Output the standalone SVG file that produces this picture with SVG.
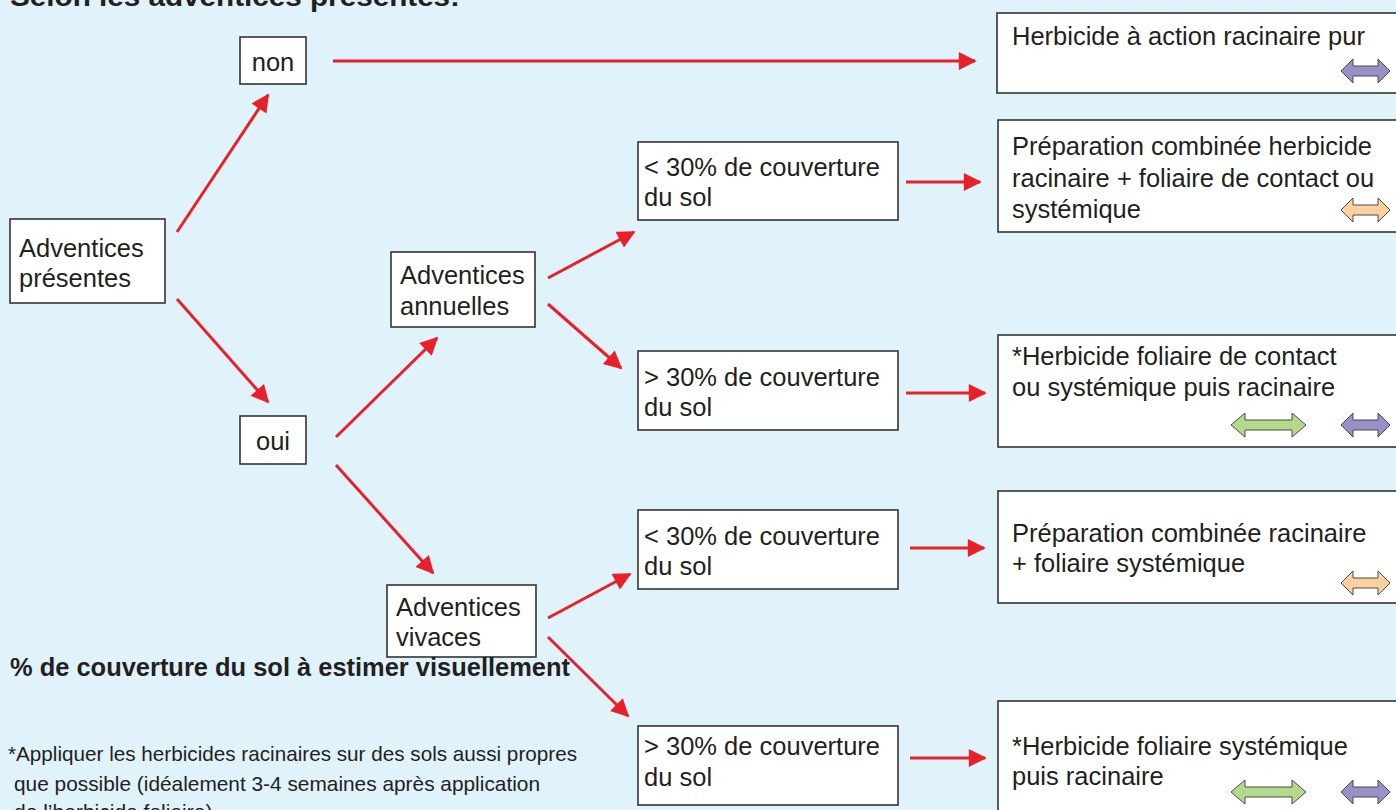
<svg xmlns="http://www.w3.org/2000/svg" xmlns:xlink="http://www.w3.org/1999/xlink" width="1396" height="810" viewBox="0 0 1396 810">
<style>
.bg{fill:#e0f3fb}
.box{fill:#fff;stroke:#333;stroke-width:1.6}
.t{font-family:"Liberation Sans",Arial,sans-serif;font-size:25.5px;fill:#231f20}
.b{font-family:"Liberation Sans",Arial,sans-serif;font-weight:bold;fill:#231f20}
.fn{font-family:"Liberation Sans",Arial,sans-serif;font-size:21px;fill:#231f20}
.con line{stroke:#e8202a;stroke-width:3;marker-end:url(#ah)}
.dbl{stroke:#4a4a4a;stroke-width:1}
.pu{fill:#9b8fc7}.or{fill:#fdd09f}.gr{fill:#b5d98a}
</style>
<defs>
<marker id="ah" viewBox="0 0 10 10" refX="9" refY="5" markerWidth="7" markerHeight="6" markerUnits="strokeWidth" orient="auto">
<path d="M0,0 L10,5 L0,10 z" fill="#e8202a"/>
</marker>
<path id="dS" d="M0,0 L12,-12 L12,-5 L37,-5 L37,-12 L49,0 L37,12 L37,5 L12,5 L12,12 Z"/>
<path id="dL" d="M0,0 L14,-12 L14,-5 L61,-5 L61,-12 L75,0 L61,12 L61,5 L14,5 L14,12 Z"/>
</defs>
<rect class="bg" x="0" y="0" width="1396" height="810"/>
<text class="b" x="10" y="6" font-size="28" textLength="450" lengthAdjust="spacingAndGlyphs">Selon les adventices présentes:</text>

<g id="connectors" class="con">
<line x1="177" y1="232" x2="268" y2="95"/>
<line x1="177" y1="299" x2="268" y2="402"/>
<line x1="336" y1="437" x2="437" y2="338"/>
<line x1="336" y1="465" x2="433" y2="573"/>
<line x1="548" y1="278" x2="634" y2="232"/>
<line x1="548" y1="304" x2="621" y2="368"/>
<line x1="548" y1="618" x2="630" y2="574"/>
<line x1="548" y1="637" x2="628" y2="716"/>
<line x1="333" y1="61" x2="975" y2="61"/>
<line x1="906" y1="182" x2="980" y2="182"/>
<line x1="906" y1="393" x2="985" y2="393"/>
<line x1="910" y1="548" x2="984" y2="548"/>
<line x1="910" y1="758" x2="985" y2="758"/>
</g>

<g id="n-presentes"><rect class="box" x="10" y="219" width="155" height="84"/>
<text class="t" x="19" y="257">Adventices</text><text class="t" x="19" y="287">présentes</text></g>
<g id="n-non"><rect class="box" x="240" y="37" width="66" height="47"/>
<text class="t" x="273" y="71" text-anchor="middle">non</text></g>
<g id="n-oui"><rect class="box" x="240" y="416" width="66" height="48"/>
<text class="t" x="273" y="450" text-anchor="middle">oui</text></g>
<g id="n-annuelles"><rect class="box" x="391" y="252" width="144" height="75"/>
<text class="t" x="400" y="284">Adventices</text><text class="t" x="400" y="315">annuelles</text></g>
<g id="n-vivaces"><rect class="box" x="387" y="585" width="149" height="72"/>
<text class="t" x="396" y="616">Adventices</text><text class="t" x="396" y="646">vivaces</text></g>

<g id="n-a-lt30"><rect class="box" x="638" y="142" width="260" height="78"/>
<text class="t" x="644" y="176">&lt; 30% de couverture</text><text class="t" x="644" y="206">du sol</text></g>
<g id="n-a-gt30"><rect class="box" x="638" y="351" width="260" height="79"/>
<text class="t" x="644" y="386">&gt; 30% de couverture</text><text class="t" x="644" y="416">du sol</text></g>
<g id="n-v-lt30"><rect class="box" x="638" y="510" width="260" height="79"/>
<text class="t" x="644" y="545">&lt; 30% de couverture</text><text class="t" x="644" y="575">du sol</text></g>
<g id="n-v-gt30"><rect class="box" x="638" y="726" width="260" height="79"/>
<text class="t" x="644" y="755">&gt; 30% de couverture</text><text class="t" x="644" y="786">du sol</text></g>

<g id="r-racinaire"><rect class="box" x="997" y="13" width="410" height="80"/>
<text class="t" x="1012" y="45">Herbicide à action racinaire pur</text>
<use xlink:href="#dS" class="dbl pu" x="1341" y="71"/></g>
<g id="r-combinee"><rect class="box" x="998" y="120" width="410" height="112"/>
<text class="t" x="1012" y="155">Préparation combinée herbicide</text>
<text class="t" x="1012" y="187">racinaire + foliaire de contact ou</text>
<text class="t" x="1012" y="218">systémique</text>
<use xlink:href="#dS" class="dbl or" x="1341" y="210"/></g>
<g id="r-foliaire-contact"><rect class="box" x="998" y="335" width="410" height="112"/>
<text class="t" x="1012" y="365">*Herbicide foliaire de contact</text>
<text class="t" x="1012" y="396">ou systémique puis racinaire</text>
<use xlink:href="#dL" class="dbl gr" x="1231" y="425"/>
<use xlink:href="#dS" class="dbl pu" x="1341" y="425"/></g>
<g id="r-combinee-sys"><rect class="box" x="998" y="491" width="410" height="112"/>
<text class="t" x="1012" y="542">Préparation combinée racinaire</text>
<text class="t" x="1012" y="572">+ foliaire systémique</text>
<use xlink:href="#dS" class="dbl or" x="1341" y="583"/></g>
<g id="r-foliaire-sys"><rect class="box" x="998" y="701" width="410" height="130"/>
<text class="t" x="1012" y="755">*Herbicide foliaire systémique</text>
<text class="t" x="1012" y="785">puis racinaire</text>
<use xlink:href="#dL" class="dbl gr" x="1231" y="792"/>
<use xlink:href="#dS" class="dbl pu" x="1341" y="792"/></g>

<g id="notes">
<text class="b" x="10" y="676" font-size="25" textLength="560" lengthAdjust="spacingAndGlyphs">% de couverture du sol à estimer visuellement</text>
<text class="fn" x="8" y="761" textLength="569" lengthAdjust="spacingAndGlyphs">*Appliquer les herbicides racinaires sur des sols aussi propres</text>
<text class="fn" x="14" y="791" textLength="526" lengthAdjust="spacingAndGlyphs">que possible (idéalement 3-4 semaines après application</text>
<text class="fn" x="14" y="819">de l’herbicide foliaire)</text>
</g>
</svg>
